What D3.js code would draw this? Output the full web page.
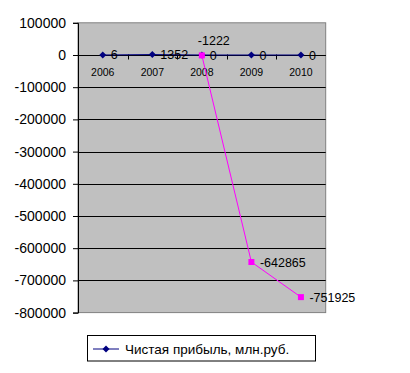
<!DOCTYPE html>
<html><head><meta charset="utf-8">
<script src="https://cdn.jsdelivr.net/npm/d3@7"></script>
<style>body{margin:0;background:#fff}svg{display:block;font-family:"Liberation Sans",Arial,sans-serif}</style>
</head><body><svg id="c" width="410" height="373"></svg>
<script>
const years = ["2006","2007","2008","2009","2010"];
const profit = [6, 1352, 0, 0, 0];
const loss = [null, null, -1222, -642865, -751925];
const yTicks = [100000,0,-100000,-200000,-300000,-400000,-500000,-600000,-700000,-800000];
const legendLabel = "Чистая прибыль, млн.руб.";

const svg = d3.select("#c");
const L=78, R=325.7, T=22.8, B=312.6;
const x = d3.scaleBand().domain(years).range([L,R]);
const y = d3.scaleLinear().domain([-800000,100000]).range([B,T]);
const cx = d => x(d)+x.bandwidth()/2;

svg.append("rect").attr("x",L).attr("y",T).attr("width",R-L).attr("height",B-T)
  .attr("fill","#c0c0c0").attr("stroke","#808080").attr("stroke-width",1);

// gridlines
svg.append("g").selectAll("line").data(yTicks.filter(v=>v<100000&&v>-800000)).join("line")
  .attr("x1",L).attr("x2",R).attr("y1",d=>Math.round(y(d))+0.5).attr("y2",d=>Math.round(y(d))+0.5)
  .attr("stroke","#000");

// y axis
const ya = d3.axisLeft(y).tickValues(yTicks).tickSize(5).tickPadding(7).tickFormat(d=>String(d));
const gy = svg.append("g").attr("transform",`translate(${L},0)`).call(ya);
gy.select(".domain").attr("stroke","#000");
gy.selectAll("text").attr("font-size","14px").attr("fill","#000").attr("font-family","Liberation Sans, Arial, sans-serif");

// x axis at zero
const y0 = Math.round(y(0))+0.5;
svg.append("line").attr("x1",L).attr("x2",R).attr("y1",y0).attr("y2",y0).attr("stroke","#000");
svg.append("g").selectAll("line").data(years.slice(1)).join("line")
  .attr("x1",d=>Math.round(x(d))+0.5).attr("x2",d=>Math.round(x(d))+0.5)
  .attr("y1",y0-1).attr("y2",y0+4).attr("stroke","#000");
svg.append("g").selectAll("text").data(years).join("text")
  .attr("x",d=>cx(d)).attr("y",y0+20).attr("text-anchor","middle")
  .attr("font-size","10.5px").text(d=>d);

// blue series
const bl = d3.line().x((d,i)=>cx(years[i])).y(d=>y(d));
svg.append("path").attr("d",bl(profit)).attr("fill","none").attr("stroke","#000080").attr("stroke-width",1);
svg.append("g").selectAll("path").data(profit).join("path")
  .attr("d",(d,i)=>{const px=cx(years[i]),py=y(d);return `M${px-3.5},${py}L${px},${py-3.5}L${px+3.5},${py}L${px},${py+3.5}Z`;})
  .attr("fill","#000080");
svg.append("g").selectAll("text").data(profit).join("text")
  .attr("x",(d,i)=>cx(years[i])+8).attr("y",d=>y(d)+4.5)
  .attr("font-size","12.5px").text(d=>d);

// magenta series
const idx = loss.map((v,i)=>v===null?null:i).filter(i=>i!==null);
const ml = d3.line().x(i=>cx(years[i])).y(i=>y(loss[i]));
svg.append("path").attr("d",ml(idx)).attr("fill","none").attr("stroke","#ff00ff").attr("stroke-width",1);
svg.append("g").selectAll("rect").data(idx).join("rect")
  .attr("x",i=>cx(years[i])-3).attr("y",i=>y(loss[i])-3).attr("width",6).attr("height",6)
  .attr("fill","#ff00ff");
svg.append("g").selectAll("text").data(idx).join("text")
  .attr("x",(i,k)=>k===0?cx(years[i])-4:cx(years[i])+8.5)
  .attr("y",(i,k)=>k===0?y(loss[i])-10:y(loss[i])+4.5)
  .attr("font-size","12.5px").text(i=>loss[i]);

// legend
svg.append("rect").attr("x",87.5).attr("y",335.5).attr("width",228).attr("height",25.5)
  .attr("fill","#fff").attr("stroke","#000");
svg.append("line").attr("x1",93).attr("x2",119).attr("y1",349).attr("y2",349).attr("stroke","#000080");
svg.append("path").attr("d","M102.5,349L106,345.5L109.5,349L106,352.5Z").attr("fill","#000080");
svg.append("text").attr("x",125).attr("y",354).attr("font-size","13.5px").text(legendLabel);
</script></body></html>
